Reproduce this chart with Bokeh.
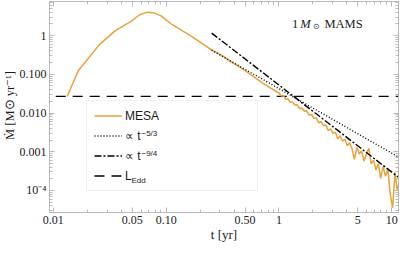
from bokeh.plotting import figure
from bokeh.models import LogAxis, FixedTicker, Legend, LegendItem, Label, Range1d, Title
from bokeh.embed import file_html
from bokeh.resources import INLINE

# ---------------- data ----------------
mesa_t = [0.0133, 0.0167, 0.0184, 0.0255, 0.0352, 0.0484, 0.0587, 0.0673, 0.0771,
          0.0902, 0.1132, 0.168, 0.253, 0.32, 0.37, 0.442, 0.55, 0.62, 0.695, 0.83, 0.92,
          1.0, 1.05, 1.1, 1.15, 1.2, 1.26, 1.32, 1.38, 1.45, 1.52, 1.6, 1.68, 1.76, 1.85,
          1.94, 2.04, 2.14, 2.25, 2.36, 2.48, 2.6, 2.73, 2.87, 3.01, 3.16, 3.32, 3.48,
          3.66, 3.84, 4.03, 4.23, 4.44, 4.66, 4.9, 5.14, 5.4, 5.67, 5.95, 6.25, 6.56,
          6.89, 7.23, 7.59, 7.97, 8.37, 8.79, 9.23, 9.69, 10.17, 10.68, 11.2, 11.7]
mesa_mdot = [0.0270, 0.127, 0.177, 0.575, 1.32, 2.29, 3.51, 3.98, 3.92,
             3.23, 1.91, 0.957, 0.43, 0.294, 0.216, 0.159, 0.102, 0.0798, 0.0631, 0.0453, 0.0381,
             0.0329, 0.0274, 0.0274, 0.0227, 0.0230, 0.0189, 0.0194, 0.0161, 0.0163, 0.0131,
             0.0133, 0.0111, 0.0114, 0.00881, 0.00920, 0.00735, 0.00750, 0.00557, 0.00603,
             0.00470, 0.00492, 0.00355, 0.00391, 0.00299, 0.00322, 0.00214, 0.00259,
             0.00188, 0.00210, 0.00142, 0.00171, 0.00119, 0.000634, 0.00129, 0.000869,
             0.00104, 0.000570, 0.000859, 0.00123, 0.000488, 0.000608, 0.000340, 0.000489,
             0.000204, 0.000419, 0.000232, 0.000361, 0.0000778, 0.0000358, 0.000294,
             0.0000959, 0.000191]

fit_t = [0.253, 12.0]
fit_53 = [0.42, 6.75e-4]      # proportional to t^-5/3
fit_94 = [1.16, 1.97e-4]      # proportional to t^-9/4

edd_t = [0.0105, 12.0]
edd_mdot = [0.027, 0.027]

x_major = [0.01, 0.05, 0.1, 0.5, 1, 5, 10]
x_labels = ["0.01", "0.05", "0.10", "0.50", "1", "5", "10"]
y_major = [1e-4, 1e-3, 1e-2, 1e-1, 1]
y_labels = ["10\u207b\u2074", "0.001", "0.010", "0.100", "1"]

x_minor = [m * d for d in (0.01, 0.1, 1) for m in (2, 3, 4, 6, 7, 8, 9)]
y_minor = [m * d for d in (1e-5, 1e-4, 1e-3, 1e-2, 1e-1, 1) for m in (2, 3, 4, 5, 6, 7, 8, 9)]

# ---------------- styling ----------------
ORANGE = "#E8A23A"
AX = "#b8b8b8"
TXT = "#1a1a1a"
SERIF = "Liberation Serif"
SANS = "Liberation Sans"

p = figure(width=399, height=244, x_axis_type="log", y_axis_type="log",
           x_range=Range1d(0.00925, 11.46), y_range=Range1d(2.69e-5, 7.60),
           output_backend="svg", toolbar_location=None,
           min_border_left=44, min_border_right=1, min_border_top=1, min_border_bottom=31,
           background_fill_color="white", border_fill_color="white")
p.xgrid.grid_line_color = None
p.ygrid.grid_line_color = None
p.outline_line_color = AX

xt = FixedTicker(ticks=x_major, minor_ticks=x_minor)
yt = FixedTicker(ticks=y_major, minor_ticks=y_minor)


def style(ax):
    ax.axis_line_color = AX
    ax.major_tick_line_color = AX
    ax.minor_tick_line_color = AX
    ax.major_tick_in = 5
    ax.major_tick_out = 0
    ax.minor_tick_in = 3
    ax.minor_tick_out = 0
    ax.major_label_text_font = SERIF
    ax.major_label_text_font_size = "12px"
    ax.major_label_text_color = TXT


xa = p.xaxis[0]
xa.ticker = xt
style(xa)
xa.major_label_overrides = dict(zip(x_major, x_labels))
xa.major_label_standoff = 3
xa.axis_label = "t [yr]"
xa.axis_label_text_font = SERIF
xa.axis_label_text_font_size = "13px"
xa.axis_label_text_font_style = "normal"
xa.axis_label_text_color = TXT
xa.axis_label_standoff = 0

ya = p.yaxis[0]
ya.ticker = yt
style(ya)
ya.major_label_overrides = dict(zip(y_major, y_labels))
ya.major_label_standoff = 3

for side, tk, vals in (("above", xt, x_major), ("right", yt, y_major)):
    ax = LogAxis(ticker=tk)
    style(ax)
    ax.major_label_overrides = {v: "" for v in vals}
    ax.major_label_text_font_size = "1px"
    ax.major_label_standoff = 0
    p.add_layout(ax, side)

# y axis title, drawn in the left panel
p.add_layout(Title(text="\u1e40 [M\u2299 yr\u207b\u00b9]", align="center", offset=7,
                   standoff=0, text_font=SERIF, text_font_size="12.5px",
                   text_font_style="normal", text_color=TXT), "left")

# ---------------- glyphs ----------------
r_edd = p.line(edd_t, edd_mdot, line_color="black", line_width=1.3, line_dash="10 7")
r_mesa = p.line(mesa_t, mesa_mdot, line_color=ORANGE, line_width=1.5)
r_53 = p.line(fit_t, fit_53, line_color="black", line_width=1.4, line_dash="1 2")
r_94 = p.line(fit_t, fit_94, line_color="black", line_width=1.4, line_dash="7 2 2 2")


def lab(text, x, y, size, font=SERIF, style_="normal", baseline="alphabetic"):
    p.add_layout(Label(x=x, y=y, x_units="screen", y_units="screen", text=text,
                       text_font=font, text_font_size=size, text_font_style=style_,
                       text_baseline=baseline, text_align="left",
                       text_color=TXT, level="overlay"))


legend = Legend(items=[LegendItem(label="MESA", renderers=[r_mesa]),
                       LegendItem(label="\u221d t", renderers=[r_53]),
                       LegendItem(label="\u221d t", renderers=[r_94]),
                       LegendItem(label="L", renderers=[r_edd])],
                location=(37, 21), glyph_width=28, glyph_height=15, label_height=15,
                label_standoff=3, spacing=5, padding=7, margin=0, label_width=125,
                label_text_font=SANS, label_text_font_size="12px",
                label_text_color=TXT,
                border_line_color="#e2e2e2", border_line_width=1,
                background_fill_alpha=0)
p.add_layout(legend)

# legend super/subscripts
lab("\u22125/3", 92, 79.5, "8px", font=SANS, baseline="middle")
lab("\u22129/4", 92, 59.5, "8px", font=SANS, baseline="middle")
lab("Edd", 82, 32.5, "8px", font=SANS, baseline="middle")

# panel title "1 M_sun MAMS"
lab("1", 242.5, 188.6, "12.5px")
lab("M", 250.7, 188.6, "12.5px", style_="italic")
lab("\u2299", 263.5, 186.3, "8px")
lab("MAMS", 274.9, 188.6, "12.5px")

open("out.html", "w").write(file_html(p, INLINE))
